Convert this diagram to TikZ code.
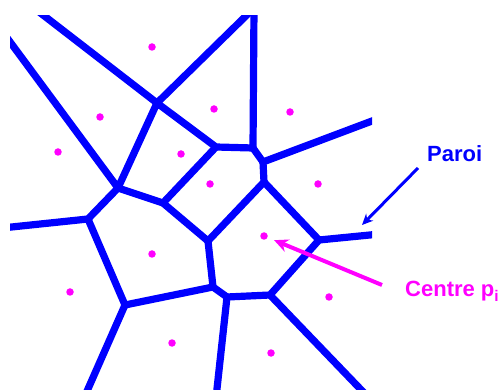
\documentclass[tikz,border=0pt]{standalone}
\usepackage{fontspec}
\setmainfont{Liberation Sans}
\usetikzlibrary{arrows.meta}

\definecolor{wallblue}{RGB}{0,0,255}
\definecolor{sitemagenta}{RGB}{255,0,255}

\tikzset{
  wall/.style={wallblue,line width=7.2pt,line cap=round,line join=round},
  site/.style={circle,fill=sitemagenta,inner sep=0pt,minimum size=7.5pt},
  label/.style={inner sep=0pt,font=\fontsize{22}{26}\selectfont\bfseries}
}

\begin{document}
\begin{tikzpicture}[x=1pt,y=-1pt]
            \useasboundingbox (0,0) rectangle (501,390);
            % sommets du diagramme
            \coordinate (A) at (157,103);
            \coordinate (B) at (118,188);
            \coordinate (C) at (216,147);
            \coordinate (D) at (253,148);
            \coordinate (F) at (263,162);
            \coordinate (G) at (264,182);
            \coordinate (H) at (208,241);
            \coordinate (I) at (319,240);
            \coordinate (J) at (163,203);
            \coordinate (K) at (88,219);
            \coordinate (L) at (125,305);
            \coordinate (M) at (213,287);
            \coordinate (N) at (227,297);
            \coordinate (O) at (270,295);
            % bouts coupes au bord
            \coordinate (t1) at (34,8);
            \coordinate (t2) at (254,8);
            \coordinate (t3) at (254,8);
            \coordinate (l1) at (2,31);
            \coordinate (l2) at (2,228);
            \coordinate (r1) at (380,118);
            \coordinate (r2) at (380,234);
            \coordinate (b1) at (84,398);
            \coordinate (b2) at (216,398);
            \coordinate (b3) at (369,398);
            \begin{scope}
                \clip (10,16) rectangle (372,390);
                \draw[wall] (t1) -- (A) -- (t2);
                \draw[wall] (l1) -- (B) -- (A) -- (C) -- (D) -- (t3);
                \draw[wall] (C) -- (J) -- (B) -- (K) -- (l2);
                \draw[wall] (D) -- (F) -- (r1);
                \draw[wall] (F) -- (G) -- (H) -- (J);
                \draw[wall] (G) -- (I) -- (r2);
                \draw[wall] (K) -- (L) -- (b1);
                \draw[wall] (H) -- (M) -- (L);
                \draw[wall] (M) -- (N) -- (b2);
                \draw[wall] (N) -- (O) -- (I);
                \draw[wall] (O) -- (b3);
            \end{scope}
            % centres
            \node[site] (p1) at (152,47) {};
            \node[site] (p2) at (214,109) {};
            \node[site] (p3) at (290,112) {};
            \node[site] (p4) at (100,117) {};
            \node[site] (p5) at (58,152) {};
            \node[site] (p6) at (181,154) {};
            \node[site] (p7) at (318,184) {};
            \node[site] (p8) at (210,184) {};
            \node[site] (pi) at (264,236) {};
            \node[site] (p10) at (152,254) {};
            \node[site] (p11) at (70,292) {};
            \node[site] (p12) at (329,297) {};
            \node[site] (p13) at (172,343) {};
            \node[site] (p14) at (271,353) {};
            % legendes
            \node[label,wallblue,anchor=base west] (paroi) at (427,162) {Paroi};
            \node[label,sitemagenta,anchor=base west] (centre) at (405,297) {Centre p\textsubscript{i}};
            \coordinate (paroitail) at (418,168);
            \coordinate (paroitip) at (362,225);
            \coordinate (centretail) at (382,285);
            \draw[-{Stealth[length=11pt,width=10pt]},wallblue,line width=3pt] (paroitail) to (paroitip);
            \draw[-{Stealth[length=14pt,width=13pt]},sitemagenta,line width=4pt,shorten >=7pt] (centretail) to (pi);
        \end{tikzpicture}
\end{document}
